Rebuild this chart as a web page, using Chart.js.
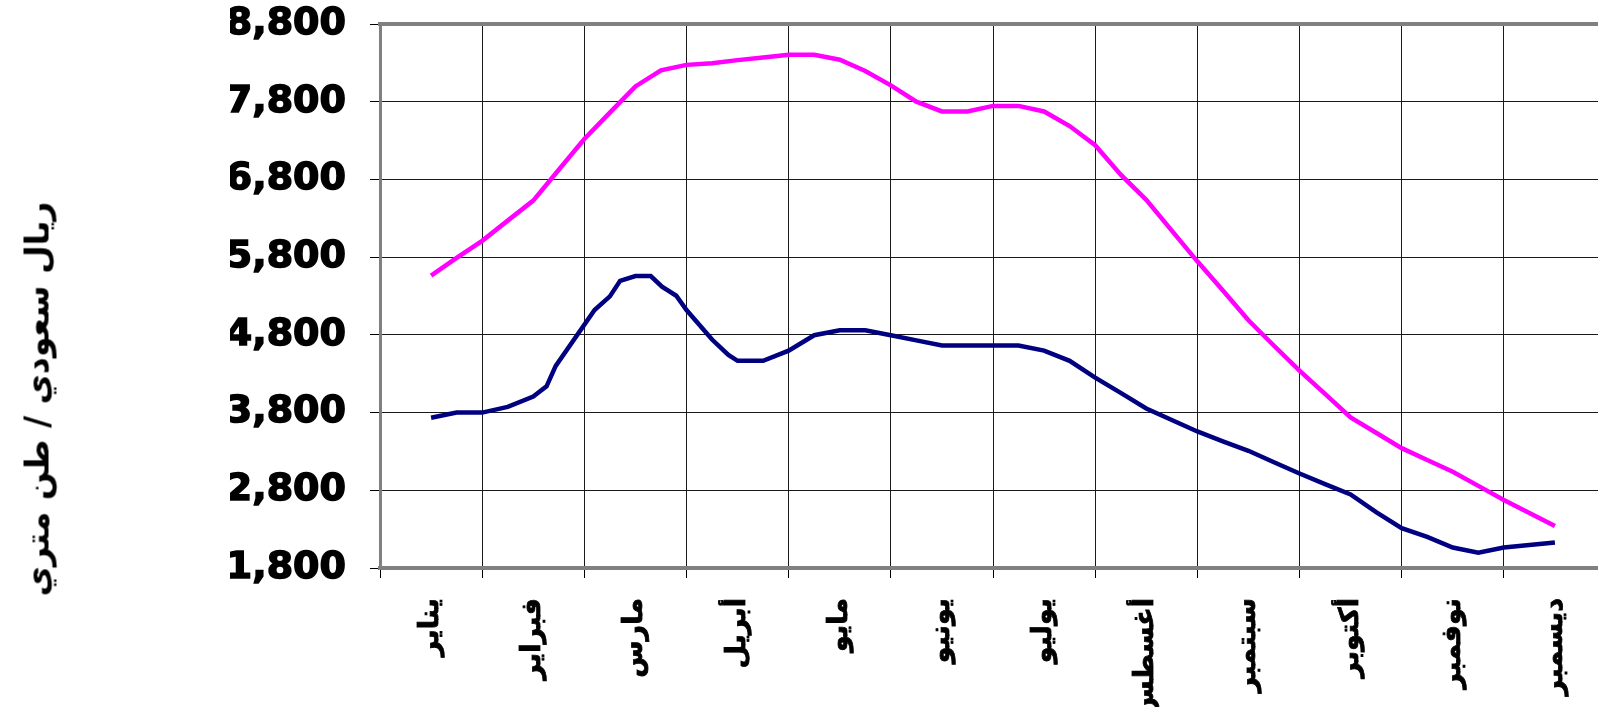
<!DOCTYPE html>
<html lang="ar">
<head>
<meta charset="utf-8">
<script src="https://cdn.jsdelivr.net/npm/chart.js@4/dist/chart.umd.min.js"></script>
<style>
  html, body { margin: 0; padding: 0; background: #fff; overflow: hidden; }
  #boite { position: relative; width: 1612px; height: 707px; }
  #titre-y {
    position: absolute; left: 37px; top: 399px;
    transform: translate(-50%, -50%) rotate(-90deg);
    font: bold 33px "DejaVu Sans", sans-serif;
    white-space: nowrap; direction: rtl; color: #000;
  }
</style>
</head>
<body>
<div id="boite">
  <canvas id="graphique" width="1612" height="707"></canvas>
  <div id="titre-y">ريال سعودي / طن متري</div>
</div>
<script>
// mois (une case par mois sur l'axe x)
const mois = ['يناير', 'فبراير', 'مارس', 'أبريل', 'مايو', 'يونيو', 'يوليو', 'أغسطس', 'سبتمبر', 'أكتوبر', 'نوفمبر', 'ديسمبر'];

// graduations de l'axe y
const graduationsY = [1800, 2800, 3800, 4800, 5800, 6800, 7800, 8800];

// courbe rose (position en mois, valeur)
const positionsRose = [0.5, 0.75, 1, 1.25, 1.5, 1.75, 2, 2.25, 2.5, 2.75, 3, 3.25, 3.5, 3.75, 4, 4.25, 4.5, 4.75,
  5, 5.25, 5.5, 5.75, 6, 6.25, 6.5, 6.75, 7, 7.25, 7.5, 7.75, 8, 8.25, 8.5, 8.75, 9, 9.25, 9.5, 9.75,
  10, 10.25, 10.5, 10.75, 11, 11.25, 11.5];
const valeursRose = [5562, 5790, 6010, 6270, 6528, 6925, 7321, 7660, 7997, 8204, 8274, 8296, 8335, 8370, 8405, 8405, 8340, 8195,
  8010, 7800, 7675, 7675, 7746, 7746, 7675, 7487, 7240, 6862, 6537, 6142, 5746, 5370, 4988, 4660, 4339, 4040, 3738, 3540,
  3342, 3190, 3038, 2857, 2676, 2508, 2339];

// courbe bleue
const positionsBleu = [0.5, 0.75, 1, 1.25, 1.5, 1.63, 1.72, 2.1, 2.25, 2.35, 2.5, 2.65, 2.76, 2.9, 3, 3.25, 3.41, 3.5, 3.75,
  4, 4.25, 4.5, 4.75, 5, 5.25, 5.5, 5.75, 6, 6.25, 6.5, 6.75, 7, 7.25, 7.5, 7.75, 8, 8.25, 8.5, 8.75,
  9, 9.25, 9.5, 9.75, 10, 10.25, 10.5, 10.75, 11, 11.25, 11.5];
const valeursBleu = [3734, 3800, 3800, 3874, 4005, 4137, 4400, 5120, 5295, 5495, 5557, 5557, 5420, 5303, 5120, 4740, 4541, 4466, 4466,
  4597, 4795, 4858, 4858, 4795, 4729, 4663, 4663, 4663, 4663, 4597, 4466, 4250, 4054, 3853, 3705, 3557, 3430, 3308, 3160,
  3016, 2880, 2747, 2520, 2313, 2200, 2063, 1997, 2063, 2096, 2129];

function points(xs, ys) {
  return xs.map((x, i) => ({ x: x, y: ys[i] }));
}

const policeAxes = { family: 'DejaVu Sans', weight: 'bold' };

new Chart(document.getElementById('graphique'), {
  type: 'line',
  data: {
    datasets: [
      {
        data: points(positionsRose, valeursRose),
        borderColor: '#FF00FF',
        borderWidth: 4.5,
        pointRadius: 0,
        tension: 0,
        fill: false
      },
      {
        data: points(positionsBleu, valeursBleu),
        borderColor: '#000080',
        borderWidth: 4.5,
        pointRadius: 0,
        tension: 0,
        fill: false
      }
    ]
  },
  options: {
    responsive: false,
    animation: false,
    layout: { padding: { top: 24, left: 230, right: 6, bottom: 0 } },
    plugins: { legend: { display: false }, tooltip: { enabled: false } },
    scales: {
      x: {
        type: 'linear',
        position: 'bottom',
        min: 0,
        max: 12,
        afterBuildTicks: axe => { axe.ticks = mois.map((m, i) => ({ value: i + 0.5 })); },
        afterFit: axe => { axe.height = 139; axe.paddingLeft = 0; axe.paddingRight = 0; },
        ticks: {
          autoSkip: false,
          maxRotation: 90,
          minRotation: 90,
          padding: 20,
          color: '#000',
          textStrokeColor: '#000',
          textStrokeWidth: 0.8,
          font: { ...policeAxes, size: 27 },
          callback: (v, i) => mois[i]
        },
        grid: { offset: true, color: '#1a1a1a', lineWidth: 1, tickLength: 10, tickColor: '#000' },
        border: { color: '#808080', width: 4 }
      },
      xHaut: {
        type: 'linear',
        position: 'top',
        display: true,
        min: 0,
        max: 12,
        ticks: { display: false },
        grid: { display: false, drawTicks: false },
        border: { color: '#808080', width: 4 }
      },
      y: {
        min: 1800,
        max: 8800,
        afterBuildTicks: axe => { axe.ticks = graduationsY.map(v => ({ value: v })); },
        // largeur fixe, et pas de marge haute/basse due aux étiquettes
        afterFit: axe => { axe.width = 150; axe.paddingTop = 0; axe.paddingBottom = 0; },
        ticks: {
          padding: 24,
          color: '#000',
          textStrokeColor: '#000',
          textStrokeWidth: 1.5,
          font: { ...policeAxes, size: 38 },
          callback: v => v.toLocaleString('en-US')
        },
        grid: { color: '#1a1a1a', lineWidth: 1, tickLength: 10, tickColor: '#000' },
        border: { color: '#808080', width: 3 }
      }
    }
  }
});
</script>
</body>
</html>
